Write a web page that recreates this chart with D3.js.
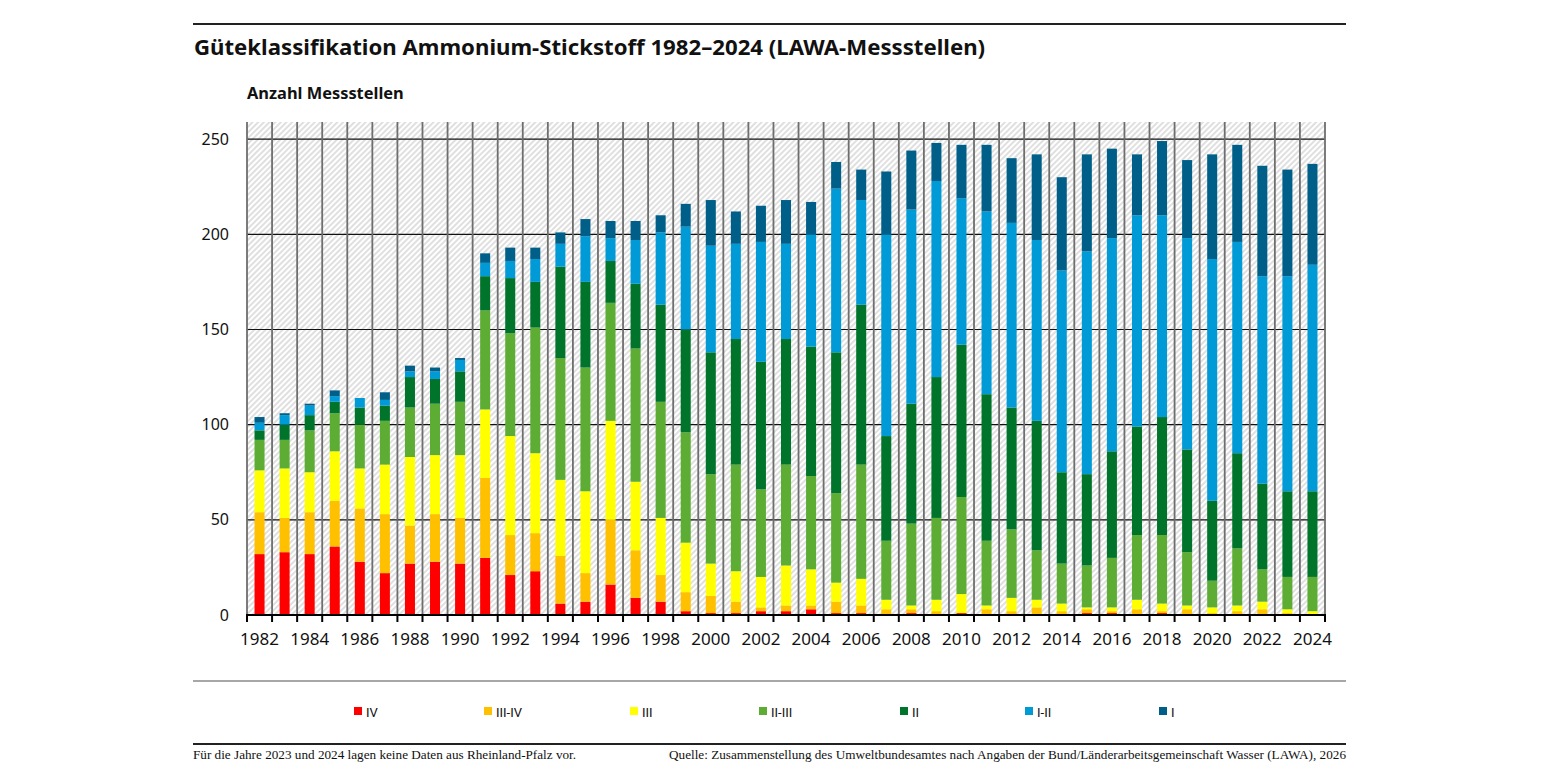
<!DOCTYPE html>
<html>
<head>
<meta charset="utf-8">
<script src="https://cdn.jsdelivr.net/npm/d3@7"></script>
<style>
  body { margin: 0; background: #fff; }
  svg { display: block; }
</style>
</head>
<body>
<svg id="chart"></svg>
<script>
// Years on the x axis
const years = d3.range(1982, 2025);

// Quality classes, bottom to top
const classes = ["IV", "III-IV", "III", "II-III", "II", "I-II", "I"];

// Number of stations per class, 1982..2024
const valIV   = [32,33,32,36,28,22,27,28,27,30,21,23,6,7,16,9,7,2,1,1,2,2,3,1,1,0,1,0,1,0,0,0,0,1,1,0,1,0,0,0,0,0,0];
const valIIIIV= [22,18,22,24,28,31,20,25,24,42,21,20,25,15,34,25,14,10,9,6,2,3,2,6,4,3,2,2,0,3,2,4,2,2,1,3,1,3,1,2,3,1,0];
const valIII  = [22,26,21,26,21,26,36,31,33,36,52,42,40,43,52,36,30,26,17,16,16,21,19,10,14,5,2,6,10,2,7,4,4,1,2,5,4,2,3,3,4,2,2];
const valIIIII= [16,15,22,20,23,23,26,27,28,52,54,66,64,65,62,70,61,58,47,56,46,53,49,47,60,31,43,43,51,34,36,26,21,22,26,34,36,28,14,30,17,17,18];
const valII   = [5,8,8,6,9,8,16,13,16,18,29,24,48,45,22,34,51,54,64,66,67,66,68,74,84,55,63,74,80,77,64,68,48,48,56,57,62,54,42,50,45,45,45];
const valIII_ = [4,5,5,3,5,3,3,4,6,7,9,12,12,24,12,23,38,54,56,50,63,50,59,86,55,106,102,103,77,96,97,95,106,117,112,111,106,111,127,111,109,113,119];
const valI    = [3,1,1,3,0,4,3,2,1,5,7,6,6,9,9,10,9,12,24,17,19,23,17,14,16,33,31,20,28,35,34,45,49,51,47,32,39,41,55,51,58,56,53];

const yTicks = [0, 50, 100, 150, 200, 250];
const xLabelYears = years.filter(d => d % 2 === 0);

const colors = {
    "IV": "#ff0000",
    "III-IV": "#ffc000",
    "III": "#ffff00",
    "II-III": "#5dac34",
    "II": "#00742a",
    "I-II": "#009ad6",
    "I": "#005f88"
};

const dims = {
    width: 1545,
    height: 775,
    left: 247,
    right: 1325,
    top: 122,
    bottom: 615
};

// table for d3.stack
const series = [valIV, valIIIIV, valIII, valIIIII, valII, valIII_, valI];
const table = years.map((yr, i) => {
    const row = { year: yr };
    classes.forEach((c, k) => { row[c] = series[k][i]; });
    return row;
});

const svg = d3.select("#chart")
    .attr("width", dims.width)
    .attr("height", dims.height);

const sans = "'Noto Sans', 'DejaVu Sans', sans-serif";
const serif = "'Liberation Serif', 'DejaVu Serif', serif";

// hatch pattern for plot background
const defs = svg.append("defs");
defs.append("pattern")
    .attr("id", "hatch")
    .attr("patternUnits", "userSpaceOnUse")
    .attr("width", 4)
    .attr("height", 4)
    .attr("patternTransform", "rotate(45)")
    .append("line")
    .attr("x1", 1).attr("y1", 0)
    .attr("x2", 1).attr("y2", 4)
    .attr("stroke", "#d2d2d2")
    .attr("stroke-width", 1.4);

// scales
const x = d3.scaleBand()
    .domain(years)
    .range([dims.left, dims.right])
    .paddingInner(0.6)
    .paddingOuter(0.3);

const xCell = d3.scaleBand()
    .domain(years)
    .range([dims.left, dims.right])
    .padding(0);

const y = d3.scaleLinear()
    .domain([0, 259])
    .range([dims.bottom, dims.top]);

// rules and titles
svg.append("line")
    .attr("x1", 193).attr("x2", 1346)
    .attr("y1", 24).attr("y2", 24)
    .attr("stroke", "#222").attr("stroke-width", 2);

svg.append("text")
    .attr("x", 194).attr("y", 55)
    .style("font-family", sans)
    .style("font-weight", "bold")
    .style("font-size", "22.2px")
    .attr("fill", "#111")
    .text("Güteklassifikation Ammonium-Stickstoff 1982–2024 (LAWA-Messstellen)");

svg.append("text")
    .attr("x", 247).attr("y", 99)
    .style("font-family", sans)
    .style("font-weight", "bold")
    .style("font-size", "16.4px")
    .attr("fill", "#111")
    .text("Anzahl Messstellen");

// plot background
svg.append("rect")
    .attr("x", dims.left).attr("y", dims.top)
    .attr("width", dims.right - dims.left)
    .attr("height", dims.bottom - dims.top)
    .attr("fill", "url(#hatch)");

// horizontal grid
svg.append("g")
    .selectAll("line")
    .data(yTicks.filter(d => d > 0))
    .join("line")
    .attr("x1", dims.left).attr("x2", dims.right)
    .attr("y1", d => y(d)).attr("y2", d => y(d))
    .attr("stroke", "#111").attr("stroke-width", 1.2);

// vertical separators between years
const bounds = years.map(d => xCell(d)).concat([dims.right]);
svg.append("g")
    .selectAll("line")
    .data(bounds)
    .join("line")
    .attr("x1", d => d).attr("x2", d => d)
    .attr("y1", dims.top).attr("y2", dims.bottom)
    .attr("stroke", "#6e6e6e").attr("stroke-width", 1.8);

// stacked bars
const stack = d3.stack().keys(classes);
const layers = stack(table);

svg.append("g")
    .selectAll("g")
    .data(layers)
    .join("g")
    .attr("fill", d => colors[d.key])
    .selectAll("rect")
    .data(d => d)
    .join("rect")
    .attr("x", d => x(d.data.year))
    .attr("width", x.bandwidth())
    .attr("y", d => y(d[1]))
    .attr("height", d => y(d[0]) - y(d[1]));

// y axis labels
svg.append("g")
    .attr("transform", `translate(${dims.left},0)`)
    .call(d3.axisLeft(y).tickValues(yTicks).tickSize(0).tickPadding(18))
    .call(g => g.select(".domain").remove())
    .call(g => g.selectAll("text")
        .style("font-family", sans)
        .style("font-size", "16px")
        .attr("fill", "#111"));

// x axis: line, boundary ticks, labels
svg.append("line")
    .attr("x1", dims.left - 1).attr("x2", dims.right + 1)
    .attr("y1", dims.bottom).attr("y2", dims.bottom)
    .attr("stroke", "#000").attr("stroke-width", 2.2);

svg.append("g")
    .selectAll("line")
    .data(bounds)
    .join("line")
    .attr("x1", d => d).attr("x2", d => d)
    .attr("y1", dims.bottom).attr("y2", dims.bottom + 7)
    .attr("stroke", "#000").attr("stroke-width", 2);

svg.append("g")
    .attr("transform", `translate(0,${dims.bottom})`)
    .call(d3.axisBottom(x).tickValues(xLabelYears).tickSize(0).tickPadding(18))
    .call(g => g.select(".domain").remove())
    .call(g => g.selectAll("text")
        .style("font-family", sans)
        .style("font-size", "17px")
        .attr("fill", "#111"));

// legend
svg.append("line")
    .attr("x1", 193).attr("x2", 1346)
    .attr("y1", 681).attr("y2", 681)
    .attr("stroke", "#8a8a8a").attr("stroke-width", 1.5);

const legendX = [354, 484, 630, 759, 900, 1025, 1159];
const legend = svg.append("g")
    .selectAll("g")
    .data(classes)
    .join("g")
    .attr("transform", (d, i) => `translate(${legendX[i]},707)`);

legend.append("rect")
    .attr("width", 8).attr("height", 8)
    .attr("fill", d => colors[d]);

legend.append("text")
    .attr("x", 12).attr("y", 9.5)
    .style("font-family", "Roboto, 'Noto Sans', sans-serif")
    .style("font-size", "13px")
    .attr("fill", "#111")
    .text(d => d);

// footer
svg.append("line")
    .attr("x1", 193).attr("x2", 1346)
    .attr("y1", 744).attr("y2", 744)
    .attr("stroke", "#222").attr("stroke-width", 2);

svg.append("text")
    .attr("x", 193).attr("y", 759)
    .style("font-family", serif)
    .style("font-size", "13.2px")
    .attr("fill", "#111")
    .text("Für die Jahre 2023 und 2024 lagen keine Daten aus Rheinland-Pfalz vor.");

svg.append("text")
    .attr("x", 1346).attr("y", 759)
    .attr("text-anchor", "end")
    .style("font-family", serif)
    .style("font-size", "13.2px")
    .attr("fill", "#111")
    .text("Quelle: Zusammenstellung des Umweltbundesamtes nach Angaben der Bund/Länderarbeitsgemeinschaft Wasser (LAWA), 2026");
</script>
</body>
</html>
